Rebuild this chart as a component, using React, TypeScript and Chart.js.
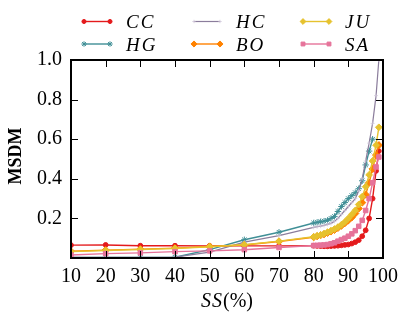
import React, { useEffect, useRef } from 'react';
import { Chart, registerables, PointElement } from 'chart.js';

Chart.register(...registerables);

// ---- data ----
const ssValues = [10, 20, 30, 40, 50, 60, 70, 80, 81, 82, 83, 84, 85, 86, 87, 88, 89, 90, 91, 92, 93, 94, 95, 96, 97, 98, 98.8];

const ccValues = [0.065, 0.066, 0.062, 0.062, 0.061, 0.061, 0.061, 0.062, 0.061, 0.06, 0.059, 0.059, 0.06, 0.061, 0.062, 0.064, 0.066, 0.068, 0.073, 0.08, 0.09, 0.11, 0.14, 0.2, 0.3, 0.44, 0.54];
const hgValues = [0.003, 0.003, 0.003, 0.004, 0.042, 0.092, 0.13, 0.177, 0.18, 0.183, 0.186, 0.19, 0.2, 0.21, 0.235, 0.26, 0.28, 0.3, 0.315, 0.33, 0.35, 0.39, 0.47, 0.54, 0.6, null, null];
const hcValues = [0.003, 0.003, 0.003, 0.004, 0.03, 0.08, 0.113, 0.155, 0.158, 0.161, 0.165, 0.17, 0.175, 0.185, 0.2, 0.22, 0.24, 0.26, 0.28, 0.3, 0.34, 0.4, 0.49, 0.58, 0.68, 0.82, 1.0];
const boValues = [0.034, 0.04, 0.045, 0.05, 0.058, 0.066, 0.083, 0.105, 0.11, 0.115, 0.12, 0.127, 0.134, 0.142, 0.152, 0.163, 0.176, 0.19, 0.205, 0.225, 0.25, 0.28, 0.32, 0.38, 0.45, 0.52, 0.57];
const juValues = [0.032, 0.038, 0.043, 0.048, 0.057, 0.067, 0.085, 0.107, 0.112, 0.117, 0.123, 0.13, 0.138, 0.146, 0.156, 0.168, 0.182, 0.2, 0.22, 0.24, 0.27, 0.31, 0.36, 0.42, 0.49, 0.57, 0.66];
const saValues = [0.015, 0.022, 0.026, 0.032, 0.036, 0.042, 0.053, 0.063, 0.064, 0.065, 0.066, 0.068, 0.072, 0.077, 0.085, 0.093, 0.1, 0.11, 0.122, 0.138, 0.16, 0.19, 0.24, 0.3, 0.38, 0.46, 0.51];

const xTickValues = [10, 20, 30, 40, 50, 60, 70, 80, 90, 100];
const yTickValues = [0.2, 0.4, 0.6, 0.8, 1.0];

const seriesNames = ['CC', 'HG', 'HC', 'BO', 'JU', 'SA'];
const seriesValues = [ccValues, hgValues, hcValues, boValues, juValues, saValues];

// legend grid order (row-major as displayed)
const legendOrder = [['CC', 'HC', 'JU'], ['HG', 'BO', 'SA']];

const styles: Record<string, any> = {
  CC: { color: '#e41a1c', pointStyle: 'circle', radius: 2.4, pbw: 1, pColor: '#e41a1c', width: 1.4 },
  HG: { color: '#3f8f96', pointStyle: 'star', radius: 3.2, pbw: 1, pColor: '#3f8f96', width: 1.4 },
  HC: { color: '#8b7d9c', pointStyle: 'cross', radius: 2, pbw: 0.7, pColor: '#cbc2d6', width: 1.2 },
  BO: { color: '#ff8200', pointStyle: 'rectRot', radius: 3.6, pbw: 1, pColor: '#ff8200', width: 1.4 },
  JU: { color: '#e6c22e', pointStyle: 'rectRot', radius: 3.4, pbw: 1, pColor: '#e6c22e', width: 1.4 },
  SA: { color: '#e6739a', pointStyle: 'rect', radius: 3.2, pbw: 1, pColor: '#e6739a', width: 1.4 },
};

const SERIF = "'Liberation Serif', serif";
Chart.defaults.font.family = SERIF;

const decorPlugin = {
  id: 'decor',
  afterDatasetsDraw(chart: any) {
    const { ctx, chartArea } = chart;
    const { left, right, top, bottom } = chartArea;
    const xs = chart.scales.x;
    const ys = chart.scales.y;
    ctx.save();
    ctx.strokeStyle = '#000';
    ctx.lineWidth = 1;
    const tl = 7;
    ctx.beginPath();
    xs.ticks.forEach((t: any) => {
      const px = Math.round(xs.getPixelForValue(t.value)) + 0.5;
      ctx.moveTo(px, bottom);
      ctx.lineTo(px, bottom - tl);
      ctx.moveTo(px, top);
      ctx.lineTo(px, top + tl);
    });
    ys.ticks.forEach((t: any) => {
      const py = Math.round(ys.getPixelForValue(t.value)) + 0.5;
      ctx.moveTo(left, py);
      ctx.lineTo(left + tl, py);
      ctx.moveTo(right, py);
      ctx.lineTo(right - tl, py);
    });
    ctx.stroke();
    ctx.lineWidth = 2;
    ctx.strokeRect(left, top, right - left, bottom - top);

    // axis titles
    ctx.fillStyle = '#000';
    ctx.save();
    ctx.translate(16, (top + bottom) / 2 - 3);
    ctx.rotate(-Math.PI / 2);
    ctx.font = `bold 18px ${SERIF}`;
    ctx.textAlign = 'center';
    ctx.textBaseline = 'middle';
    ctx.fillText('MSDM', 0, 0);
    ctx.restore();

    const italicFont = `italic 20px ${SERIF}`;
    const uprightFont = `20px ${SERIF}`;
    ctx.font = italicFont;
    (ctx as any).letterSpacing = '1px';
    const w1 = ctx.measureText('SS').width;
    ctx.font = uprightFont;
    (ctx as any).letterSpacing = '0px';
    const w2 = ctx.measureText('(%)').width;
    const cx = (left + right) / 2;
    const x0 = cx - (w1 + w2) / 2;
    ctx.textBaseline = 'middle';
    ctx.textAlign = 'left';
    ctx.font = italicFont;
    (ctx as any).letterSpacing = '1px';
    ctx.fillText('SS', x0, 302);
    ctx.font = uprightFont;
    (ctx as any).letterSpacing = '0px';
    ctx.fillText('(%)', x0 + w1, 302);

    // legend
    const colLine = [84, 194, 303];
    const rowY = [21.5, 44];
    const lineLen = 26;
    legendOrder.forEach((row, ri) => {
      row.forEach((name, ci) => {
        const s = styles[name];
        const y = rowY[ri];
        const x1 = colLine[ci];
        const x2 = x1 + lineLen;
        ctx.strokeStyle = s.color;
        ctx.lineWidth = s.width;
        ctx.beginPath();
        ctx.moveTo(x1, y);
        ctx.lineTo(x2, y);
        ctx.stroke();
        [x1, x2].forEach((px) => {
          const pt: any = new PointElement({});
          pt.x = px;
          pt.y = y;
          pt.options = {
            pointStyle: s.pointStyle,
            radius: s.radius * 0.85,
            rotation: 0,
            borderWidth: s.pbw,
            borderColor: s.pColor,
            backgroundColor: s.pColor,
          };
          pt.draw(ctx);
        });
        ctx.fillStyle = '#000';
        ctx.font = `italic 19px ${SERIF}`;
        (ctx as any).letterSpacing = '2px';
        ctx.textAlign = 'left';
        ctx.textBaseline = 'alphabetic';
        ctx.fillText(name, x2 + 16, y + 6.5);
        (ctx as any).letterSpacing = '0px';
      });
    });
    ctx.restore();
  },
};

export default function App() {
  const canvasRef = useRef<HTMLCanvasElement | null>(null);

  useEffect(() => {
    const canvas = canvasRef.current;
    if (!canvas) return;
    const datasets = seriesNames.map((name, i) => {
      const s = styles[name];
      return {
        label: name,
        data: ssValues.map((x, j) => ({ x, y: seriesValues[i][j] })),
        borderColor: s.color,
        backgroundColor: s.color,
        borderWidth: s.width,
        pointStyle: s.pointStyle,
        pointRadius: s.radius,
        pointBorderWidth: s.pbw,
        pointBorderColor: s.pColor,
        pointBackgroundColor: s.pColor,
        tension: 0,
        spanGaps: false,
        order: seriesNames.length - i,
      };
    });
    const chart = new Chart(canvas, {
      type: 'line',
      data: { datasets },
      options: {
        animation: false,
        responsive: false,
        devicePixelRatio: 1,
        events: [],
        layout: { padding: { top: 60, right: 23, left: 0, bottom: 0 } },
        plugins: { legend: { display: false }, tooltip: { enabled: false }, title: { display: false } },
        scales: {
          x: {
            type: 'linear',
            min: 10,
            max: 100,
            afterBuildTicks: (scale: any) => {
              scale.ticks = xTickValues.map((v) => ({ value: v }));
            },
            afterFit: (scale: any) => {
              scale.height = 63;
            },
            grid: { display: false, drawTicks: false },
            border: { display: false },
            ticks: {
              autoSkip: false,
              maxRotation: 0,
              padding: 7,
              color: '#000',
              font: { family: SERIF, size: 20 },
              callback: (v: any) => String(v),
            },
          },
          y: {
            type: 'linear',
            min: 0,
            max: 1,
            afterBuildTicks: (scale: any) => {
              scale.ticks = yTickValues.map((v) => ({ value: v }));
            },
            afterFit: (scale: any) => {
              scale.width = 71;
            },
            grid: { display: false, drawTicks: false },
            border: { display: false },
            ticks: {
              autoSkip: false,
              padding: 9,
              color: '#000',
              font: { family: SERIF, size: 20 },
              callback: (v: any) => Number(v).toFixed(1),
            },
          },
        },
      },
      plugins: [decorPlugin],
    } as any);
    return () => chart.destroy();
  }, []);

  return (
    <div style={{ position: 'fixed', left: 0, top: 0, width: 406, height: 321, background: '#fff' }}>
      <canvas ref={canvasRef} width={406} height={321} style={{ display: 'block' }} />
    </div>
  );
}
